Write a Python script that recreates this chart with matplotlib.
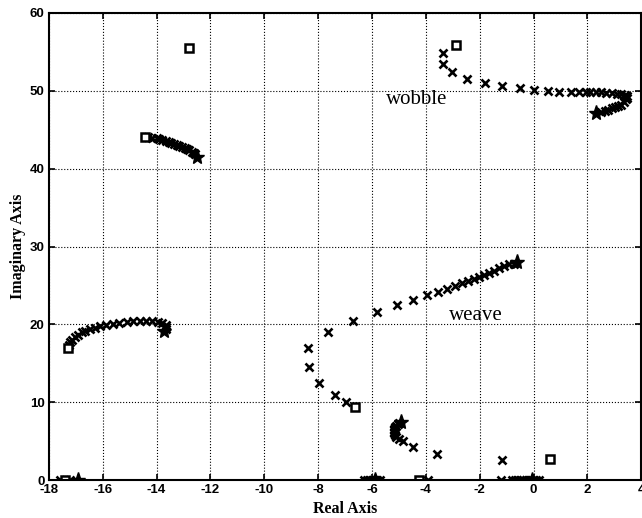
import matplotlib
matplotlib.use('Agg')
import matplotlib.pyplot as plt

plt.rcParams['axes.unicode_minus'] = False

# wobble branch
wobble_x = [-3.37, -3.37, -3.04, -2.48, -1.81, -1.18, -0.52, 0.0, 0.52, 0.96, 1.37, 1.7,
            1.93, 2.1, 2.3, 2.5, 2.7, 2.9, 3.1, 3.25, 3.38, 3.48, 3.47, 3.44, 3.36,
            3.26, 3.15, 3.03, 2.9, 2.78, 2.65, 2.52]
wobble_y = [54.8, 53.5, 52.4, 51.5, 51.0, 50.6, 50.4, 50.1, 49.95, 49.9, 49.9, 49.85,
            49.85, 49.8, 49.8, 49.8, 49.75, 49.7, 49.65, 49.6, 49.5, 49.3, 49.1, 48.9, 48.55,
            48.2, 48.05, 47.9, 47.75, 47.6, 47.45, 47.3]

# weave branch
weave_x = [-6.96, -7.37, -7.96, -8.33, -8.37, -7.65, -6.7, -5.81, -5.07, -4.48, -3.96, -3.56,
           -3.22, -2.93, -2.67, -2.44, -2.22, -2.04, -1.85, -1.67, -1.48, -1.3, -1.11, -0.93,
           -0.74]
weave_y = [10.0, 10.9, 12.5, 14.5, 17.0, 19.0, 20.4, 21.6, 22.5, 23.1, 23.8, 24.2,
           24.6, 24.9, 25.3, 25.6, 25.8, 26.1, 26.3, 26.6, 26.9, 27.2, 27.5, 27.7,
           27.8]

# capsize branch near -5
cap_x = [-4.98, -5.05, -5.1, -5.15, -5.18, -5.2, -5.2, -5.18, -5.15, -5.1, -5.0, -4.85,
         -4.48, -3.59, -1.18]
cap_y = [7.4, 7.2, 7.0, 6.8, 6.6, 6.4, 6.2, 6.0, 5.8, 5.6, 5.35, 5.0,
         4.3, 3.3, 2.6]

# branch near -14, 44
upper_x = [-14.3, -14.15, -14.0, -13.9, -13.78, -13.66, -13.55, -13.45, -13.35, -13.25,
           -13.15, -13.04, -12.95, -12.87, -12.78, -12.7, -12.62, -12.56]
upper_y = [44.1, 44.0, 43.9, 43.8, 43.7, 43.55, 43.45, 43.3, 43.2, 43.05,
           42.95, 42.85, 42.7, 42.55, 42.4, 42.2, 42.05, 41.85]

# branch near -15, 20
left_x = [-17.25, -17.22, -17.15, -17.04, -16.92, -16.78, -16.64, -16.48, -16.3, -16.1,
          -15.88, -15.63, -15.38, -15.1, -14.87, -14.63, -14.4, -14.15, -13.95, -13.78,
          -13.66, -13.63, -13.66]
left_y = [17.4, 17.7, 18.05, 18.4, 18.7, 19.0, 19.2, 19.4, 19.6, 19.8,
          19.95, 20.1, 20.2, 20.3, 20.4, 20.45, 20.45, 20.4, 20.3, 20.15,
          19.95, 19.7, 19.45]

# real-axis points
axis_x = [-17.6, -17.2, -6.3, -6.2, -6.1, -6.0, -5.95, -5.9, -5.85, -5.8, -5.7, -3.93, -1.22,
          -0.8, -0.7, -0.6, -0.5, -0.4, -0.3, -0.2, -0.15, -0.1, 0.0, 0.1, 0.19]
axis_y = [0.0] * len(axis_x)

# open-loop (squares) and end points (stars)
sq_x = [-12.78, -2.9, -14.44, -17.3, -6.63, 0.6, -17.4, -4.26]
sq_y = [55.5, 55.9, 44.1, 17.0, 9.4, 2.7, 0.0, 0.0]
star_x = [2.3, -12.5, -13.74, -0.63, -4.93, -16.93, -0.07, -5.9]
star_y = [47.2, 41.5, 19.2, 28.0, 7.5, 0.0, 0.0, 0.0]

fig = plt.figure(figsize=(6.42, 5.18), dpi=100)
ax = fig.add_axes([0.076, 0.073, 0.923, 0.902])

for xs, ys in [(wobble_x, wobble_y), (weave_x, weave_y), (cap_x, cap_y),
               (upper_x, upper_y), (left_x, left_y), (axis_x, axis_y)]:
    ax.plot(xs, ys, 'x', color='black', ms=5.5, mew=1.9)
ax.plot(sq_x, sq_y, 's', mfc='white', mec='black', ms=6, mew=1.8)
ax.plot(star_x, star_y, '*', color='black', ms=11)

ax.text(-5.48, 48.3, 'wobble', fontsize=15, family='Liberation Serif')
ax.text(-3.15, 20.6, 'weave', fontsize=15, family='Liberation Serif')

ax.set_xlim(-18, 4)
ax.set_ylim(0, 60)
ax.set_xticks(range(-18, 5, 2))
ax.set_yticks(range(0, 61, 10))
ax.grid(True, linestyle=':', color='black', linewidth=0.8)
ax.tick_params(direction='in', top=True, right=True, length=4, width=1.2, pad=3)
for lab in ax.get_xticklabels() + ax.get_yticklabels():
    lab.set_family('Liberation Sans')
    lab.set_fontweight('bold')
    lab.set_fontsize(9.5)
for s in ax.spines.values():
    s.set_linewidth(1.5)
ax.set_xlabel('Real Axis', family='Liberation Serif', fontweight='bold', fontsize=11.5, labelpad=3)
ax.set_ylabel('Imaginary Axis', family='Liberation Serif', fontweight='bold', fontsize=11.5, labelpad=3)

fig.savefig('out.png', dpi=100)
